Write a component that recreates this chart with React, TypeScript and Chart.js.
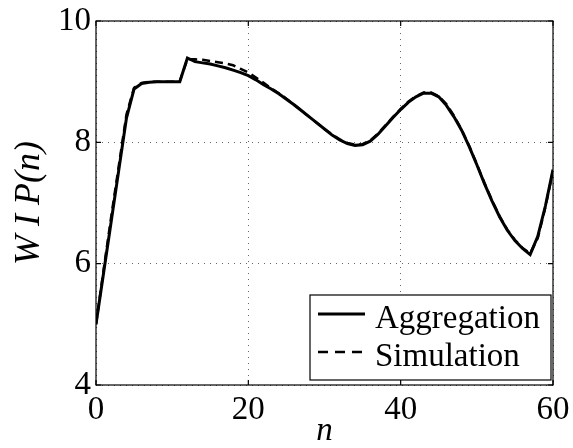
import React, { useEffect, useRef } from "react";
import { Chart, registerables } from "chart.js";

Chart.register(...registerables);

const nValues = [
  0, 1, 2, 3, 4, 5, 6, 7, 8, 9, 10, 11, 12, 13, 14, 15, 16, 17, 18, 19, 20,
  21, 22, 23, 24, 25, 26, 27, 28, 29, 30, 31, 32, 33, 34, 35, 36, 37, 38, 39, 40,
  41, 42, 43, 44, 45, 46, 47, 48, 49, 50, 51, 52, 53, 54, 55, 56, 57, 58, 59, 60,
];

const aggregation = [
  5.0, 5.85, 6.7, 7.55, 8.4, 8.88, 8.97, 8.99, 9.0, 9.0, 9.0, 9.0, 9.39, 9.33,
  9.31, 9.29, 9.26, 9.23, 9.19, 9.15, 9.1, 9.03, 8.95, 8.88, 8.8, 8.71, 8.62,
  8.52, 8.42, 8.32, 8.22, 8.12, 8.04, 7.98, 7.95, 7.96, 8.02, 8.13, 8.27, 8.41,
  8.54, 8.66, 8.75, 8.81, 8.81, 8.75, 8.61, 8.42, 8.2, 7.93, 7.63, 7.32, 7.03,
  6.77, 6.55, 6.38, 6.25, 6.15, 6.45, 6.95, 7.55,
];

const simulation = [
  5.0, 5.9, 6.78, 7.62, 8.46, 8.9, 8.98, 9.0, 9.0, 9.0, 9.0, 9.01, 9.37, 9.37,
  9.36, 9.34, 9.32, 9.3, 9.27, 9.21, 9.15, 9.07, 8.98, 8.89, 8.81, 8.72, 8.62,
  8.52, 8.42, 8.32, 8.22, 8.13, 8.05, 7.99, 7.96, 7.97, 8.03, 8.14, 8.28, 8.42,
  8.55, 8.67, 8.76, 8.82, 8.82, 8.76, 8.63, 8.44, 8.21, 7.94, 7.64, 7.33, 7.04,
  6.78, 6.56, 6.39, 6.26, 6.17, 6.42, 6.93, 7.53,
];

const xTicks = [0, 20, 40, 60];
const yTicks = [4, 6, 8, 10];
const seriesLabels = ["Aggregation", "Simulation"];
const xTitle = "n";
const yTitle = "W I P(n)";

const SERIF = "'Liberation Serif', 'DejaVu Serif', serif";

const framePlugin = {
  id: "frame",
  afterDatasetsDraw(chart: any) {
    const { ctx, chartArea } = chart;
    const { left, right, top, bottom } = chartArea;
    const xs = chart.scales.x;
    const ys = chart.scales.y;
    ctx.save();
    ctx.strokeStyle = "#000";
    ctx.lineWidth = 1.2;
    ctx.strokeRect(left, top, right - left, bottom - top);
    const tl = 5;
    ctx.beginPath();
    xTicks.forEach((v) => {
      const px = xs.getPixelForValue(v);
      ctx.moveTo(px, bottom);
      ctx.lineTo(px, bottom - tl);
      ctx.moveTo(px, top);
      ctx.lineTo(px, top + tl);
    });
    yTicks.forEach((v) => {
      const py = ys.getPixelForValue(v);
      ctx.moveTo(left, py);
      ctx.lineTo(left + tl, py);
      ctx.moveTo(right, py);
      ctx.lineTo(right - tl, py);
    });
    ctx.stroke();
    ctx.restore();
  },
  afterDraw(chart: any) {
    const { ctx, chartArea } = chart;
    const bx = chartArea.right - 243;
    const by = chartArea.bottom - 90;
    const bw = 241;
    const bh = 85;
    ctx.save();
    ctx.fillStyle = "#fff";
    ctx.fillRect(bx, by, bw, bh);
    ctx.strokeStyle = "#000";
    ctx.lineWidth = 1.2;
    ctx.strokeRect(bx, by, bw, bh);
    ctx.font = `33px ${SERIF}`;
    ctx.fillStyle = "#000";
    ctx.textBaseline = "alphabetic";
    ctx.textAlign = "left";
    chart.data.datasets.forEach((ds: any, i: number) => {
      const baseY = by + 33 + i * 38;
      const lineY = baseY - 14;
      ctx.beginPath();
      ctx.lineWidth = ds.borderWidth;
      ctx.setLineDash(ds.borderDash ? [10, 7] : []);
      ctx.moveTo(bx + 8, lineY);
      ctx.lineTo(bx + 55, lineY);
      ctx.stroke();
      ctx.setLineDash([]);
      ctx.fillText(ds.label, bx + 65, baseY);
    });
    ctx.restore();
  },
};

export default function App() {
  const canvasRef = useRef<HTMLCanvasElement | null>(null);

  useEffect(() => {
    if (!canvasRef.current) return;
    const chart = new Chart(canvasRef.current, {
      type: "line",
      data: {
        datasets: [
          {
            label: seriesLabels[0],
            data: nValues.map((n, i) => ({ x: n, y: aggregation[i] })),
            borderColor: "#000",
            borderWidth: 3,
            pointRadius: 0,
            tension: 0,
          },
          {
            label: seriesLabels[1],
            data: nValues.map((n, i) => ({ x: n, y: simulation[i] })),
            borderColor: "#000",
            borderWidth: 2.5,
            borderDash: [8, 5],
            pointRadius: 0,
            tension: 0,
          },
        ],
      },
      options: {
        animation: false,
        responsive: true,
        maintainAspectRatio: false,
        layout: { padding: { top: 21, right: 20, left: 0, bottom: 0 } },
        plugins: {
          legend: { display: false },
          tooltip: { enabled: false },
        },
        scales: {
          x: {
            type: "linear",
            min: 0,
            max: 60,
            afterFit: (s: any) => {
              s.height = 63;
              s.paddingLeft = 0;
              s.paddingRight = 0;
            },
            afterBuildTicks: (s: any) => {
              s.ticks = xTicks.map((v) => ({ value: v }));
            },
            ticks: {
              color: "#000",
              font: { family: SERIF, size: 33 },
              padding: 6,
              maxRotation: 0,
              autoSkip: false,
            },
            grid: { color: "#666", lineWidth: 1, drawTicks: false },
            border: { display: false, dash: [1, 5] },
            title: {
              display: true,
              text: xTitle,
              color: "#000",
              font: { family: SERIF, size: 33, style: "italic", lineHeight: 1 },
              padding: { top: 0, bottom: 0 },
            },
          },
          y: {
            type: "linear",
            min: 4,
            max: 10,
            afterFit: (s: any) => {
              s.width = 96;
              s.paddingTop = 0;
              s.paddingBottom = 0;
            },
            afterBuildTicks: (s: any) => {
              s.ticks = yTicks.map((v) => ({ value: v }));
            },
            ticks: {
              color: "#000",
              font: { family: SERIF, size: 33 },
              padding: 5,
              autoSkip: false,
            },
            grid: { color: "#666", lineWidth: 1, drawTicks: false },
            border: { display: false, dash: [1, 5] },
            title: {
              display: true,
              text: yTitle,
              color: "#000",
              font: { family: SERIF, size: 36, style: "italic", lineHeight: 1 },
              padding: { top: 12, bottom: 0 },
            },
          },
        },
      },
      plugins: [framePlugin],
    });
    return () => chart.destroy();
  }, []);

  return (
    <div style={{ position: "fixed", left: 0, top: 0, width: 573, height: 448, background: "#fff" }}>
      <canvas ref={canvasRef} />
    </div>
  );
}
